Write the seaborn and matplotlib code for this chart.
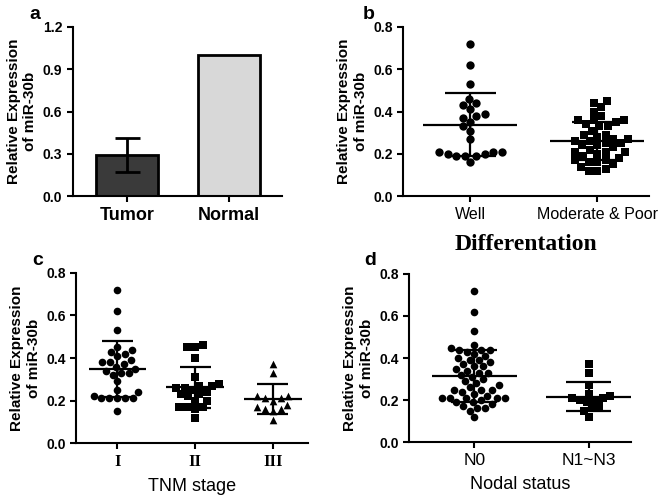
import numpy as np
import seaborn as sns
import pandas as pd
import matplotlib.pyplot as plt

# Panel a: bar chart (mean, SD)
bar_groups = ['Tumor', 'Normal']
bar_means = [0.29, 1.0]
bar_sd = [0.12, 0.0]

# Panel b: differentiation
well = [0.72, 0.62, 0.53, 0.46, 0.43, 0.44, 0.41, 0.39, 0.38, 0.37, 0.33, 0.35,
        0.31, 0.27, 0.21, 0.21, 0.21, 0.20, 0.20, 0.19, 0.19, 0.19, 0.16]
mod_poor = [0.45, 0.44, 0.42, 0.40, 0.38, 0.36, 0.36, 0.36, 0.35, 0.34, 0.33, 0.33,
            0.31, 0.29, 0.29, 0.28, 0.27, 0.27, 0.26, 0.26, 0.25, 0.25, 0.24, 0.24,
            0.23, 0.22, 0.21, 0.21, 0.21, 0.20, 0.19, 0.18, 0.17, 0.17, 0.16, 0.16,
            0.15, 0.14, 0.13, 0.12, 0.12]

# Panel c: TNM stage
stage_1 = [0.72, 0.62, 0.53, 0.45, 0.44, 0.43, 0.42, 0.41, 0.39, 0.38, 0.38, 0.37,
           0.36, 0.35, 0.34, 0.33, 0.33, 0.32, 0.29, 0.25, 0.24, 0.22, 0.21, 0.21,
           0.21, 0.21, 0.21, 0.15]
stage_2 = [0.46, 0.45, 0.45, 0.40, 0.31, 0.28, 0.27, 0.27, 0.26, 0.26, 0.25, 0.24,
           0.23, 0.23, 0.22, 0.20, 0.20, 0.17, 0.17, 0.17, 0.16, 0.12]
stage_3 = [0.37, 0.33, 0.22, 0.22, 0.21, 0.21, 0.20, 0.18, 0.17, 0.16, 0.16, 0.15, 0.11]

# Panel d: nodal status
n0 = [0.72, 0.62, 0.53, 0.46, 0.45, 0.44, 0.44, 0.44, 0.43, 0.42, 0.41, 0.40, 0.39,
      0.39, 0.38, 0.37, 0.36, 0.36, 0.35, 0.34, 0.33, 0.33, 0.32, 0.31, 0.30, 0.29,
      0.28, 0.27, 0.26, 0.25, 0.25, 0.25, 0.24, 0.23, 0.22, 0.21, 0.21, 0.21, 0.21,
      0.21, 0.20, 0.19, 0.19, 0.18, 0.17, 0.16, 0.16, 0.15, 0.12]
n1_n3 = [0.37, 0.33, 0.27, 0.23, 0.22, 0.21, 0.21, 0.20, 0.20, 0.19, 0.17, 0.16, 0.15, 0.12]

sns.set_style('ticks')
plt.rcParams['font.family'] = ['Liberation Sans', 'DejaVu Sans']
plt.rcParams['axes.linewidth'] = 1.5
for key in ['text.color', 'axes.labelcolor', 'xtick.color', 'ytick.color', 'axes.edgecolor']:
    plt.rcParams[key] = 'black'

fig = plt.figure(figsize=(6.62, 4.99), dpi=100)
ax_a = fig.add_axes([0.110, 0.607, 0.316, 0.339])
ax_b = fig.add_axes([0.609, 0.607, 0.372, 0.339])
ax_c = fig.add_axes([0.115, 0.112, 0.350, 0.341])
ax_d = fig.add_axes([0.618, 0.114, 0.335, 0.337])

ylab = 'Relative Expression\nof miR-30b'


def style_axis(ax):
    sns.despine(ax=ax)
    ax.tick_params(direction='out', length=4, width=1.5, color='black')
    for lab in ax.get_yticklabels():
        lab.set_fontweight('bold')
        lab.set_fontsize(10)
    ax.set_ylabel(ylab, fontsize=11, fontweight='bold', labelpad=4)


def dot_panel(ax, groups, labels, markers, size):
    df = pd.DataFrame({'group': np.repeat(labels, [len(g) for g in groups]),
                       'value': np.concatenate(groups)})
    for lab, mk in zip(labels, markers):
        sub = df[df['group'] == lab]
        sns.swarmplot(data=sub, x='group', y='value', order=labels, marker=mk,
                      color='black', size=size, ax=ax, linewidth=0)
    for i, g in enumerate(groups):
        m, s = np.mean(g), np.std(g, ddof=1)
        ax.hlines(m, i - 0.37, i + 0.37, color='black', lw=1.6, zorder=5)
        ax.hlines([m - s, m + s], i - 0.2, i + 0.2, color='black', lw=1.6, zorder=5)
        ax.vlines(i, m - s, m + s, color='black', lw=1.6, zorder=5)
    ax.set_ylim(0, 0.8)
    ax.set_yticks([0.0, 0.2, 0.4, 0.6, 0.8])
    ax.set_yticklabels(['0.0', '0.2', '0.4', '0.6', '0.8'])


# a
sns.barplot(x=bar_groups, y=bar_means, palette=['#3a3a3a', '#d8d8d8'],
            hue=bar_groups, legend=False, width=0.6, edgecolor='black',
            linewidth=2, ax=ax_a)
ax_a.errorbar([0], [bar_means[0]], yerr=[bar_sd[0]], fmt='none', ecolor='black',
              elinewidth=2, capsize=9, capthick=2)
ax_a.set_ylim(0, 1.2)
ax_a.set_yticks([0.0, 0.3, 0.6, 0.9, 1.2])
ax_a.set_yticklabels(['0.0', '0.3', '0.6', '0.9', '1.2'])
ax_a.set_xlim(-0.53, 1.52)
style_axis(ax_a)
for lab in ax_a.get_xticklabels():
    lab.set_fontsize(13)
    lab.set_fontweight('bold')

# b
dot_panel(ax_b, [well, mod_poor], ['Well', 'Moderate & Poor'], ['o', 's'], 6)
ax_b.set_xlim(-0.53, 1.41)
style_axis(ax_b)
for lab in ax_b.get_xticklabels():
    lab.set_fontsize(11.5)
ax_b.set_xlabel('Differentation', fontsize=17, fontweight='bold',
                family=['Liberation Serif', 'DejaVu Serif'], labelpad=9)

# c
dot_panel(ax_c, [stage_1, stage_2, stage_3], ['I', 'II', 'III'], ['o', 's', '^'], 5.5)
ax_c.set_xlim(-0.53, 2.45)
style_axis(ax_c)
for lab in ax_c.get_xticklabels():
    lab.set_fontsize(12)
    lab.set_family(['Liberation Serif', 'DejaVu Serif'])
    lab.set_fontweight('bold')
ax_c.set_xlabel('TNM stage', fontsize=13, labelpad=6)

# d
dot_panel(ax_d, [n0, n1_n3], ['N0', 'N1~N3'], ['o', 's'], 5.5)
ax_d.set_xlim(-0.57, 1.37)
style_axis(ax_d)
for lab in ax_d.get_xticklabels():
    lab.set_fontsize(12.5)
ax_d.set_xlabel('Nodal status', fontsize=13, labelpad=6)

# panel letters
for x, y, t in [(0.045, 0.988, 'a'), (0.548, 0.988, 'b'), (0.048, 0.495, 'c'), (0.55, 0.495, 'd')]:
    fig.text(x, y, t, fontsize=14, fontweight='bold', ha='left', va='top')

fig.savefig('out.png', dpi=100)
